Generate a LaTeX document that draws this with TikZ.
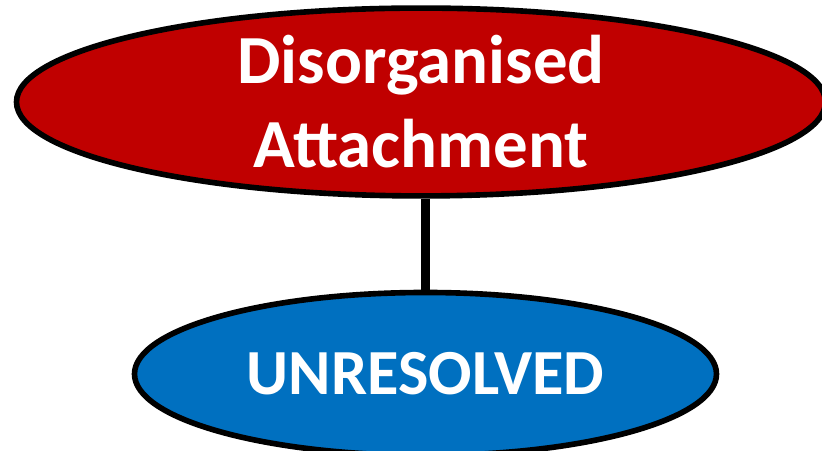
\documentclass[tikz,border=0pt]{standalone}
\usepackage{fontspec}
\newfontfamily\blobfont{Carlito}
\usetikzlibrary{shapes.geometric,positioning}
\definecolor{attred}{RGB}{192,0,0}
\definecolor{attblue}{RGB}{0,112,192}
\tikzset{>=latex}

\begin{document}
\begin{tikzpicture}[
    blob/.style={ellipse,draw=black,line width=1.6pt,inner sep=0pt,
      text=white,align=center,font=\blobfont\bfseries},
    redblob/.style={blob,fill=attred,minimum width=8.09cm,minimum height=1.85cm,
      font=\blobfont\bfseries\fontsize{19.6}{23.9}\selectfont},
    blueblob/.style={blob,fill=attblue,minimum width=5.82cm,minimum height=1.63cm,
      font=\blobfont\bfseries\fontsize{18.3}{20}\selectfont},
    link/.style={line width=2.3pt}
  ]
  \useasboundingbox (0,0) rectangle (8.22,-4.51);
  % the two states
  \node[redblob] (disorg) at (4.21,-1.02) {Disorganised\\Attachment};
  \node[blueblob] (unres) at (4.255,-3.74) {UNRESOLVED};
  % connector
  \draw[link] (unres.north |- disorg.south) -- (unres.north);
\end{tikzpicture}
\end{document}
